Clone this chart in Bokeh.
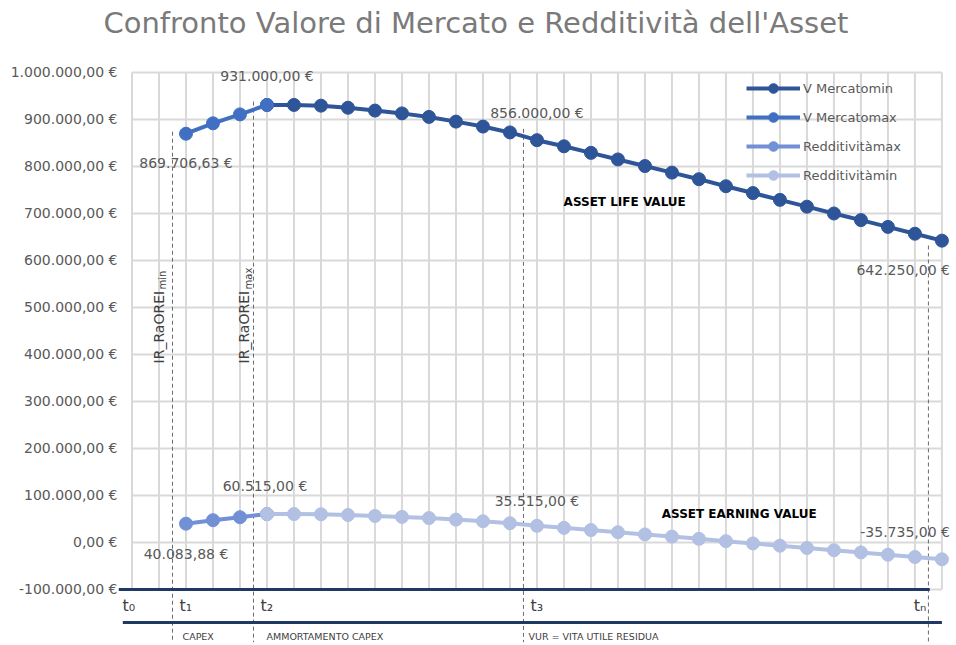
import math
from bokeh.plotting import figure
from bokeh.models import FixedTicker, Title
from bokeh.embed import file_html
from bokeh.resources import INLINE
from bokeh.core.properties import value

# ---------------- data ----------------
categories = list(range(31))                     # periods t0 ... tn
vmin_x = list(range(5, 31))
vmin = [931000, 931000, 929500, 925000, 919000, 913000, 905500, 895500, 885000, 872500,
        856000, 843000, 829000, 815000, 801000, 787000, 773000, 758000, 743500, 729000,
        714500, 700000, 686000, 671500, 657000, 642250]
vmax_x = [2, 3, 4, 5]
vmax = [869706.63, 891900, 910900, 931000]
rmax_x = [2, 3, 4, 5]
rmax = [40083.88, 47482, 53815, 60515]
rmin_x = list(range(5, 31))
rmin = [60515, 60515, 60015, 58515, 56515, 54515, 52015, 48682, 45182, 41015,
        35515, 31182, 26515, 21848, 17182, 12515, 7848, 2848, -1985, -6818,
        -11652, -16485, -21152, -25985, -30818, -35735]
y_ticks = [-100000, 0, 100000, 200000, 300000, 400000, 500000, 600000, 700000, 800000, 900000, 1000000]
phase_marks = [1.5, 4.5, 14.5, 29.5]
phase_tops = [874000, 938000, 880000, 632000]
time_labels = ["t\u2080", "t\u2081", "t\u2082", "t\u2083", "t\u2099"]
phase_labels = ["CAPEX", "AMMORTAMENTO CAPEX", "VUR = VITA UTILE RESIDUA"]
series_names = ["V Mercatomin", "V Mercatomax", "Redditivitàmax", "Redditivitàmin"]
title_text = "Confronto Valore di Mercato e Redditività dell'Asset"


def eur(v):
    s = f"{v:,.2f}".replace(",", "X").replace(".", ",").replace("X", ".")
    return s + " \u20ac"


FONT = "DejaVu Sans"
GRAY = "#595959"
Y0 = -219149
Y1 = 1004255

p = figure(width=956, height=645, x_range=(-0.5, 30.54), y_range=(Y0, Y1),
           output_backend="svg", toolbar_location=None,
           min_border_left=118, min_border_right=0, min_border_bottom=0, min_border_top=70)
p.outline_line_color = None
p.xaxis.visible = False
p.xgrid.visible = False
p.ygrid.visible = False

# spacer panel between frame and title, then the title itself (outermost)
p.add_layout(Title(text=" ", text_font_size="2px", standoff=20, vertical_align="top"), "above")
p.add_layout(Title(text=title_text, text_font=FONT, text_font_size="29px", text_font_style="normal",
                   text_color="#7a7a7a", align="left", offset=-15, vertical_align="top",
                   standoff=10), "above")

yax = p.yaxis[0]
yax.ticker = FixedTicker(ticks=y_ticks)
yax.major_label_overrides = {float(t): eur(t) for t in y_ticks}
yax.axis_line_color = None
yax.major_tick_line_color = None
yax.minor_tick_line_color = None
yax.major_tick_out = 0
yax.major_tick_in = 0
yax.major_label_standoff = 1
yax.major_label_text_font = FONT
yax.major_label_text_font_size = "14px"
yax.major_label_text_color = GRAY

# gridlines
GRID = "#D9D9D9"
p.segment(x0=categories, y0=[y_ticks[0]] * len(categories), x1=categories,
          y1=[y_ticks[-1]] * len(categories), line_color=GRID, line_width=2)
p.segment(x0=[categories[0]] * len(y_ticks), y0=y_ticks, x1=[categories[-1]] * len(y_ticks),
          y1=y_ticks, line_color=GRID, line_width=2)

# phase dashed lines
p.segment(x0=phase_marks, y0=phase_tops, x1=phase_marks, y1=[-212000] * len(phase_marks),
          line_color="#6b6b6b", line_width=1, line_dash="4 3")

# navy time axis lines
NAVY = "#1F3864"
p.segment(x0=[-0.5], y0=[y_ticks[0]], x1=[29.55], y1=[y_ticks[0]], line_color=NAVY, line_width=3)
p.segment(x0=[-0.34], y0=[-170000], x1=[30.0], y1=[-170000], line_color=NAVY, line_width=3)

# time labels
TY = -134000
p.text(x=[-0.35], y=[TY], text=[time_labels[0]], text_font=value(FONT), text_font_size="16px",
       text_color="#404040", text_align="left", text_baseline="middle")
p.text(x=phase_marks[:3], y=[TY] * 3, text=time_labels[1:4], text_font=value(FONT),
       text_font_size="16px", text_color="#404040", text_align="left", text_baseline="middle", x_offset=7)
p.text(x=[phase_marks[3]], y=[TY], text=[time_labels[4]], text_font=value(FONT), text_font_size="16px",
       text_color="#404040", text_align="right", text_baseline="middle", x_offset=-2)

# phase labels
for xm, lab, off in zip(phase_marks[:3], phase_labels, [10, 13, 5]):
    p.text(x=[xm], y=[-200000], text=[lab], text_font=value(FONT), text_font_size="9.5px",
           text_color="#404040", text_align="left", text_baseline="middle", x_offset=off)

# rotated IR labels
for xm, sub in zip([1.0, 4.16], ["min", "max"]):
    p.text(x=[xm], y=[381000], text=["IR_RaOREI"], angle=math.pi / 2, text_font=value(FONT),
           text_font_size="14px", text_color="#404040", text_align="left", text_baseline="alphabetic")
    p.text(x=[xm], y=[381000], text=[sub], angle=math.pi / 2, text_font=value(FONT),
           text_font_size="10px", text_color="#404040", text_align="left", text_baseline="alphabetic",
           x_offset=4, y_offset=-74)

# series
C_VMIN, C_VMAX, C_RMAX, C_RMIN = "#2E5597", "#4170C2", "#7190D5", "#B1C0E3"
for xs, ys, col, name in [(vmin_x, vmin, C_VMIN, series_names[0]),
                          (vmax_x, vmax, C_VMAX, series_names[1]),
                          (rmax_x, rmax, C_RMAX, series_names[2]),
                          (rmin_x, rmin, C_RMIN, series_names[3])]:
    p.line(xs, ys, line_color=col, line_width=4, legend_label=name)
    p.scatter(xs, ys, size=13, fill_color=col, line_color=col, legend_label=name)

# data labels
def dlabel(x, y, dx, dy, align="center"):
    p.text(x=[x], y=[y], text=[eur(y)], text_font=value(FONT), text_font_size="14px",
           text_color=GRAY, text_align=align, text_baseline="middle", x_offset=dx, y_offset=dy)

dlabel(vmax_x[0], vmax[0], 0, 29)
dlabel(vmax_x[3], vmax[3], 0, -29)
dlabel(vmin_x[10], vmin[10], 0, -27)
dlabel(vmin_x[-1], vmin[-1], 8, 29, "right")
dlabel(rmax_x[0], rmax[0], 0, 30)
dlabel(rmax_x[3], rmax[3], -2, -28)
dlabel(rmin_x[10], rmin[10], 0, -25)
dlabel(rmin_x[-1], rmin[-1], 8, -27, "right")

# zone labels
p.text(x=[18.25], y=[725500], text=["ASSET LIFE VALUE"], text_font=value(FONT), text_font_size="12px",
       text_font_style="bold", text_color="black", text_align="center", text_baseline="middle")
p.text(x=[22.49], y=[61700], text=["ASSET EARNING VALUE"], text_font=value(FONT), text_font_size="12px",
       text_font_style="bold", text_color="black", text_align="center", text_baseline="middle")

# legend
lg = p.legend[0]
lg.location = (628, 458)
lg.background_fill_alpha = 0
lg.border_line_color = None
lg.label_text_font = FONT
lg.label_text_font_size = "13px"
lg.label_text_color = GRAY
lg.glyph_width = 54
lg.glyph_height = 24
lg.label_height = 24
lg.spacing = 5
lg.padding = 5
lg.margin = 0
lg.label_standoff = 3

open("out.html", "w").write(file_html(p, INLINE))
